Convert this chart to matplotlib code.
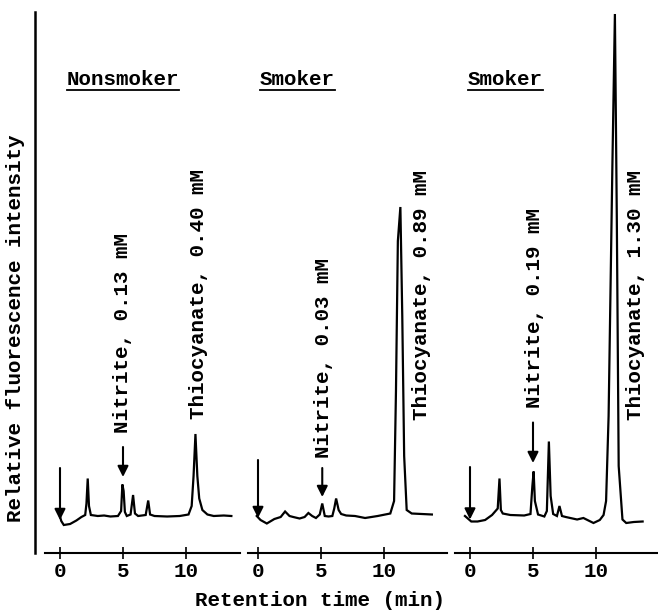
import matplotlib
matplotlib.use("Agg")
import matplotlib.pyplot as plt
from matplotlib.lines import Line2D

plt.rcParams['font.family'] = ['Liberation Mono', 'DejaVu Sans Mono']
plt.rcParams['font.weight'] = 'bold'

# Chromatogram traces (time in min, relative intensity)
t_non = [0.0, 0.1, 0.3, 0.8, 1.3, 1.7, 2.0, 2.1, 2.2, 2.3, 2.45, 3.0, 3.5, 4.0, 4.6, 4.85, 4.95,
         5.05, 5.15, 5.3, 5.6, 5.8, 5.95, 6.2, 6.8, 7.0, 7.15, 7.5, 8.5, 9.5, 10.2, 10.45, 10.6,
         10.75, 10.9, 11.05, 11.3, 11.7, 12.2, 13.0, 13.6]
v_non = [-0.1, -1.0, -1.8, -1.6, -0.9, -0.2, 0.2, 2.5, 7.5, 2.0, 0.2, 0.0, 0.1, -0.1, 0.0, 1.0, 6.3,
         5.0, 0.8, 0.0, 0.3, 4.2, 0.5, 0.0, 0.2, 3.1, 0.3, 0.0, -0.1, 0.0, 0.3, 2.0, 8.0,
         16.4, 8.0, 3.5, 1.2, 0.3, 0.0, 0.1, 0.0]

t_smk1 = [-0.1, 0.2, 0.7, 1.3, 1.8, 2.15, 2.5, 2.8, 3.3, 3.7, 4.0, 4.3, 4.6, 4.9, 5.1, 5.3, 5.6,
          5.9, 6.05, 6.2, 6.4, 6.6, 7.0, 7.7, 8.5, 9.5, 10.5, 10.8, 10.95, 11.1, 11.3, 11.45,
          11.6, 11.8, 12.2, 13.0, 13.8]
v_smk1 = [0.0, -0.8, -1.5, -0.6, -0.2, 0.9, 0.0, -0.2, -0.5, -0.2, 0.6, 0.0, -0.4, 0.3, 2.5, 0.0, -0.1,
          0.0, 1.5, 3.5, 1.2, 0.4, 0.1, 0.0, -0.4, 0.0, 0.5, 3.0, 25.0, 55.0, 61.8, 40.0,
          12.0, 1.2, 0.5, 0.4, 0.3]

t_smk2 = [-0.4, 0.1, 0.6, 1.2, 1.75, 2.2, 2.34, 2.45, 2.6, 3.2, 4.3, 4.8, 4.95, 5.05, 5.15, 5.4,
          5.9, 6.1, 6.26, 6.4, 6.6, 6.9, 7.1, 7.3, 7.6, 8.5, 9.0, 9.8, 10.3, 10.6, 10.8, 11.0,
          11.3, 11.5, 11.65, 11.8, 12.1, 12.4, 13.0, 13.7]
v_smk2 = [0.0, -1.1, -1.1, -0.8, 0.2, 1.5, 7.5, 1.2, 0.5, 0.2, 0.1, 0.4, 6.0, 8.9, 3.0, 0.3,
          -0.1, 1.0, 14.9, 4.0, 0.4, 0.0, 2.0, 0.0, -0.2, -0.7, -0.4, -1.4, -0.8, 0.2, 3.0, 20.0,
          70.0, 100.4, 60.0, 10.0, -0.7, -1.4, -1.2, -1.1]

# Arrow positions: (time, top, tip)
inj_arrows = [(0.0, 9.6, -0.8), (0.0, 11.2, -0.4), (0.0, 9.8, -0.7)]
nit_arrows = [(5.0, 13.8, 7.8), (5.1, 9.6, 3.8), (5.0, 18.7, 10.6)]

panel_titles = ['Nonsmoker', 'Smoker', 'Smoker']
nit_labels = ['Nitrite, 0.13 mM', 'Nitrite, 0.03 mM', 'Nitrite, 0.19 mM']
thio_labels = ['Thiocyanate, 0.40 mM', 'Thiocyanate, 0.89 mM', 'Thiocyanate, 1.30 mM']
xticks = [0, 5, 10]

traces = [(t_non, v_non), (t_smk1, v_smk1), (t_smk2, v_smk2)]

W, H = 658, 611
fig = plt.figure(figsize=(W / 100, H / 100), dpi=100)

ppm = 12.6  # pixels per minute
zero_px = [60, 258, 470]
edges_px = [(35, 240), (248, 447), (455, 658)]
spine_start_px = [45, 248, 455]
ybot_px, ytop_px = 553, 10
ylim = ((516 - ybot_px) / 5, (516 - ytop_px) / 5)

title_t = [5.0, 3.1, 2.8]
nit_lab_pos = [(5.0, 16.6), (5.2, 11.6), (5.1, 21.6)]
thio_lab_pos = [(11.0, 19.4), (13.0, 19.2), (13.1, 19.2)]

axes = []
for i in range(3):
    x0, x1 = edges_px[i]
    ax = fig.add_axes([x0 / W, (H - ybot_px) / H, (x1 - x0) / W, (ybot_px - ytop_px) / H])
    ax.set_xlim((x0 - zero_px[i]) / ppm, (x1 - zero_px[i]) / ppm)
    ax.set_ylim(*ylim)
    ax.patch.set_visible(False)
    for s in ['top', 'right']:
        ax.spines[s].set_visible(False)
    ax.spines['bottom'].set_bounds((spine_start_px[i] - zero_px[i]) / ppm, (x1 - zero_px[i]) / ppm)
    ax.spines['bottom'].set_linewidth(1.5)
    if i == 0:
        ax.spines['left'].set_linewidth(1.8)
        ax.spines['left'].set_bounds(ylim[0], (516 - 12) / 5)
    else:
        ax.spines['left'].set_visible(False)
    ax.set_yticks([])
    ax.set_xticks(xticks)
    ax.set_xticklabels([str(x) for x in xticks])
    ax.tick_params(axis='x', direction='inout', length=9, width=1.2, pad=2, labelsize=15)

    t, v = traces[i]
    ax.plot(t, v, color='black', lw=1.6, solid_joinstyle='miter')

    for (ta, top, tip) in (inj_arrows[i], nit_arrows[i]):
        ax.annotate('', xy=(ta, tip), xytext=(ta, top),
                    arrowprops=dict(arrowstyle='-|>', color='black', lw=1.5,
                                    mutation_scale=16, shrinkA=0, shrinkB=0))

    ax.text(nit_lab_pos[i][0], nit_lab_pos[i][1], nit_labels[i], rotation=90,
            ha='center', va='bottom', fontsize=15)
    ax.text(thio_lab_pos[i][0], thio_lab_pos[i][1], thio_labels[i], rotation=90,
            ha='center', va='bottom', fontsize=15)
    ax.text(title_t[i], (516 - 80) / 5, panel_titles[i], ha='center', va='center', fontsize=15)
    axes.append(ax)

fig.text(320 / W, 1 - 600 / H, 'Retention time (min)', ha='center', va='center', fontsize=15)
fig.text(16 / W, 1 - 328 / H, 'Relative fluorescence intensity', rotation=90,
         ha='center', va='center', fontsize=15)

# underline the panel titles
fig.canvas.draw()
for ax in axes:
    for txt in ax.texts:
        if txt.get_text() in panel_titles:
            bb = txt.get_window_extent()
            yline = bb.y0 - 1
            fig.add_artist(Line2D([bb.x0 / W, bb.x1 / W], [yline / H, yline / H],
                                  transform=fig.transFigure, color='black', lw=1.3))

fig.savefig('out.png', dpi=100)
